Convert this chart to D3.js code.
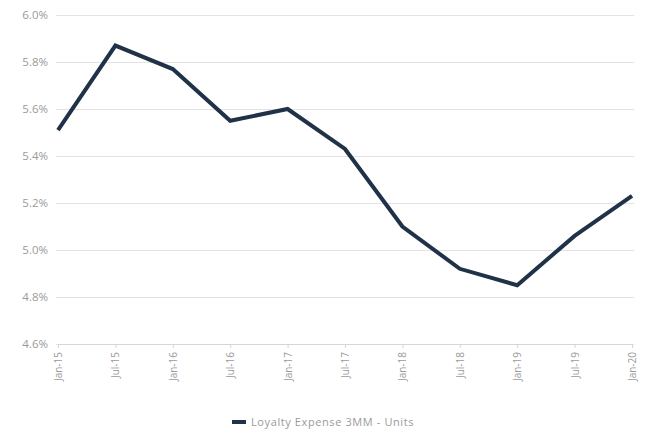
<!DOCTYPE html>
<html>
<head>
<meta charset="utf-8">
<script src="https://cdn.jsdelivr.net/npm/d3@7"></script>
<style>
  body { margin: 0; background: #fff; }
  text { font-family: "Open Sans", "DejaVu Sans", sans-serif; }
</style>
</head>
<body>
<div id="chart"></div>
<script>
// Data
const months = ["Jan-15", "Jul-15", "Jan-16", "Jul-16", "Jan-17", "Jul-17",
                "Jan-18", "Jul-18", "Jan-19", "Jul-19", "Jan-20"];
const values = [5.51, 5.87, 5.77, 5.55, 5.60, 5.43, 5.10, 4.92, 4.85, 5.06, 5.23];
const yTicks = [4.6, 4.8, 5.0, 5.2, 5.4, 5.6, 5.8, 6.0];
const seriesName = "Loyalty Expense 3MM - Units";

const width = 645, height = 439;
const margin = { top: 15, right: 13, bottom: 95, left: 58 };

const svg = d3.select("#chart")
    .append("svg")
    .attr("width", width)
    .attr("height", height);

const x = d3.scalePoint()
    .domain(months)
    .range([margin.left, width - margin.right]);

const y = d3.scaleLinear()
    .domain([4.6, 6.0])
    .range([height - margin.bottom, margin.top]);

// Gridlines + y labels
const yAxis = d3.axisLeft(y)
    .tickValues(yTicks)
    .tickSize(-(width - margin.left - margin.right + 4))
    .tickFormat(d => d.toFixed(1) + "%");

svg.append("g")
    .attr("transform", `translate(${margin.left - 2},0)`)
    .call(yAxis)
    .call(g => g.select(".domain").remove())
    .call(g => g.selectAll(".tick line").attr("stroke", "#e3e3e3").attr("stroke-width", 1))
    .call(g => g.selectAll(".tick text")
        .attr("x", -8)
        .attr("fill", "#9a9a9a")
        .style("font-size", "11.5px"));

// x axis
svg.append("g")
    .attr("transform", `translate(0,${height - margin.bottom})`)
    .call(d3.axisBottom(x).tickSize(4).tickSizeOuter(0))
    .call(g => g.select(".domain").attr("stroke", "#d6d6d6"))
    .call(g => g.selectAll(".tick line").attr("stroke", "#d6d6d6"))
    .call(g => g.selectAll(".tick text")
        .attr("transform", "rotate(-90)")
        .attr("text-anchor", "end")
        .attr("x", -8)
        .attr("y", 0)
        .attr("dy", "0.35em")
        .attr("fill", "#9a9a9a")
        .style("font-size", "10px"));

// line
const line = d3.line()
    .x((d, i) => x(months[i]))
    .y(d => y(d));

svg.append("path")
    .datum(values)
    .attr("fill", "none")
    .attr("stroke", "#1f3247")
    .attr("stroke-width", 4)
    .attr("stroke-linejoin", "miter")
    .attr("d", line);

// legend
const legend = svg.append("g")
    .attr("transform", `translate(232, 422)`);

legend.append("line")
    .attr("x1", 0).attr("x2", 14)
    .attr("stroke", "#1f3247")
    .attr("stroke-width", 4);

legend.append("text")
    .attr("x", 19)
    .attr("dy", "0.35em")
    .attr("fill", "#9a9a9a")
    .style("font-size", "11px")
    .style("letter-spacing", "0.6px")
    .text(seriesName);
</script>
</body>
</html>
